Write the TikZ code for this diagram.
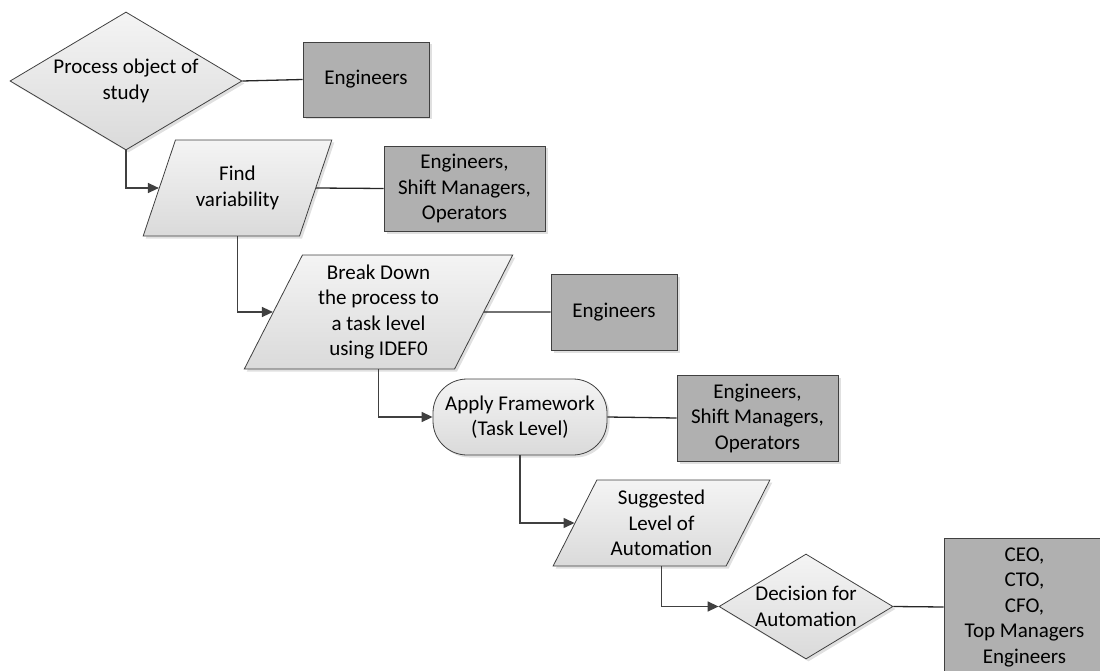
\documentclass[tikz,border=0pt]{standalone}
\usepackage{fontspec}
\setmainfont{Carlito}
\usetikzlibrary{shapes.geometric,arrows.meta,shadows}
\definecolor{edgec}{RGB}{64,64,64}
\definecolor{lighttop}{RGB}{244,244,244}
\definecolor{lightbot}{RGB}{218,218,218}
\definecolor{boxgray}{RGB}{176,176,176}
\begin{document}
\begin{tikzpicture}[x=1pt,y=-1pt,
  base/.style={draw=edgec, line width=0.8pt, align=center, inner sep=2pt,
    font=\fontsize{21}{25.5}\selectfont,
    drop shadow={shadow xshift=2.5pt, shadow yshift=-2.5pt, fill=black, opacity=0.12}},
  light/.style={base, top color=lighttop, bottom color=lightbot},
  dec/.style={light, diamond, inner sep=0pt},
  para/.style={light, trapezium, trapezium stretches=true},
  term/.style={light, rectangle, rounded corners=34pt, minimum width=174pt, minimum height=76pt},
  actor/.style={base, rectangle, fill=boxgray},
  flow/.style={draw=edgec, line width=1.4pt, -{Triangle[length=11pt,width=10pt]}},
  link/.style={draw=black!85, line width=1.3pt}
]
\useasboundingbox (0,0) rectangle (1100,671);
\clip (0,0) rectangle (1100,671);

\node[dec, aspect=1.68, minimum width=232pt, minimum height=138pt] (d1) at (126,81) {Process object of\\study};
\node[actor, minimum width=126pt, minimum height=75pt] (e1) at (366,79.5) {Engineers};

\node[para, trapezium left angle=64.4, trapezium right angle=115.6,
      minimum width=189pt, minimum height=96pt] (p1) at (237.5,188) {Find\\variability};
\node[actor, minimum width=161pt, minimum height=85pt] (e2) at (464.5,188.5) {Engineers,\\Shift Managers,\\Operators};

\node[para, trapezium left angle=64.2, trapezium right angle=115.8,
      minimum width=269pt, minimum height=114pt] (p2) at (378.5,312) {Break Down\\the process to\\a task level\\using IDEF0};
\node[actor, minimum width=126pt, minimum height=76pt] (e3) at (614,312) {Engineers};

\node[term] (t1) at (520,417) {Apply Framework\\(Task Level)};
\node[actor, minimum width=161pt, minimum height=86pt] (e4) at (757.5,418) {Engineers,\\Shift Managers,\\Operators};

\node[para, trapezium left angle=62.9, trapezium right angle=117.1,
      minimum width=217pt, minimum height=86pt] (p3) at (661.5,523) {Suggested\\Level of\\Automation};

\node[dec, aspect=1.66, minimum width=174pt, minimum height=105pt] (d2) at (806,606.5) {Decision for\\Automation};
\node[actor, minimum width=161pt, minimum height=138pt] (e5) at (1024.5,607) {CEO,\\CTO,\\CFO,\\Top Managers\\Engineers};

\draw[flow] (d1.south) |- (p1.west);
\draw[flow] (p1.center |- p1.bottom side) |- (p2.west);
\draw[flow] (p2.center |- p2.bottom side) |- (t1.west);
\draw[flow] (t1.south) |- (p3.west);
\draw[flow] (p3.center |- p3.bottom side) |- (d2.west);

\draw[link] (d1.east) -- (e1.west);
\draw[link] (p1.east) -- (e2.west);
\draw[link] (p2.east) -- (e3.west);
\draw[link] (t1.east) -- (e4.west);
\draw[link] (d2.east) -- (e5.west);
\end{tikzpicture}
\end{document}
